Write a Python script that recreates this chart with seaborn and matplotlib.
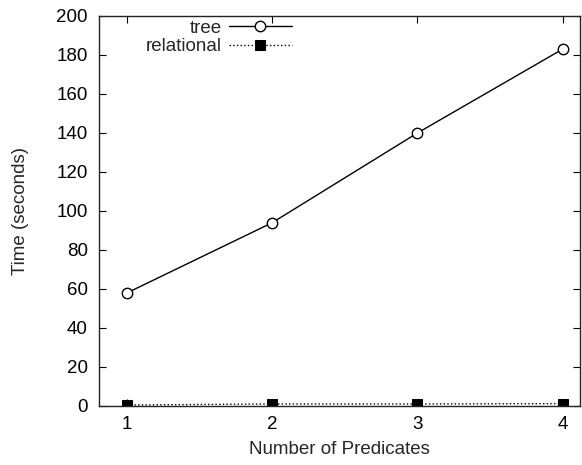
import matplotlib
matplotlib.use("Agg")
import matplotlib.pyplot as plt
import seaborn as sns
import pandas as pd

predicates = [1, 2, 3, 4]
tree = [58, 94, 140, 183]
relational = [0.5, 1.0, 1.0, 1.2]

sns.set_style("ticks")
plt.rcParams['font.family'] = ['Liberation Sans', 'DejaVu Sans']

FS = 13.5
fig = plt.figure(figsize=(5.82, 4.65), dpi=100)
ax = fig.add_axes([0.170, 0.127, 0.8266, 0.8386])

df_t = pd.DataFrame({"x": predicates, "y": tree})
df_r = pd.DataFrame({"x": predicates, "y": relational})
sns.lineplot(data=df_t, x="x", y="y", ax=ax, color="black", linewidth=1.0,
             marker="o", markersize=7.5, markerfacecolor="white",
             markeredgecolor="black", markeredgewidth=1.0, label="tree")
sns.lineplot(data=df_r, x="x", y="y", ax=ax, color="black", linewidth=1.0,
             linestyle=":", marker="s", markersize=6.5, markerfacecolor="black",
             markeredgecolor="black", label="relational")

ax.set_xlim(0.806, 4.12)
ax.set_ylim(0, 200)
ax.set_xticks(predicates)
ax.set_yticks(range(0, 201, 20))
ax.tick_params(direction="in", top=True, right=True, length=5, width=0.8,
               labelsize=FS, colors="black")
ax.tick_params(axis="x", pad=7)
ax.tick_params(axis="y", pad=8)
for s in ax.spines.values():
    s.set_linewidth(1.0)
    s.set_color("#222222")
ax.set_xlabel("Number of Predicates", fontsize=FS, labelpad=6)
ax.set_ylabel("Time (seconds)", fontsize=FS, labelpad=20)

leg = ax.legend(loc="upper right", bbox_to_anchor=(0.402, 0.99), frameon=False,
                markerfirst=False, fontsize=FS, handlelength=3.4,
                handletextpad=0.35, labelspacing=0.05, borderpad=0.0,
                borderaxespad=0.0)

fig.savefig("out.png", dpi=100)
